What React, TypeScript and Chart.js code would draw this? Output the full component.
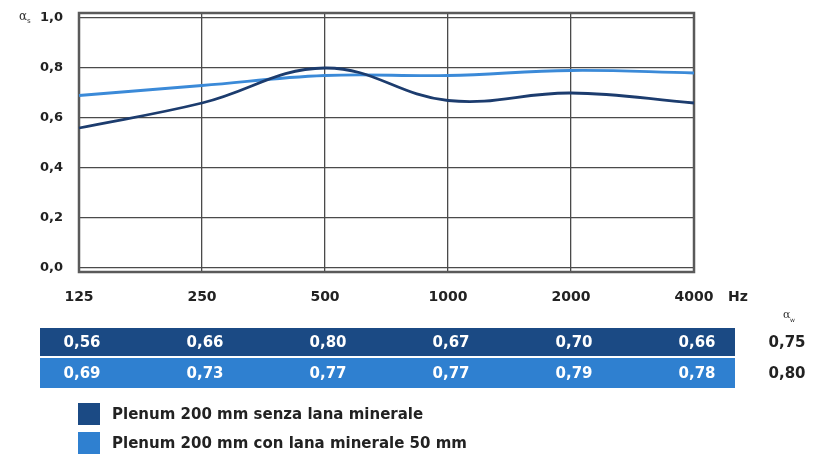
import React, { useEffect, useRef } from "react";
import { Chart, registerables } from "chart.js";

Chart.register(...registerables);

const categories = ["125", "250", "500", "1000", "2000", "4000"];
const seriesSenza = [0.56, 0.66, 0.8, 0.67, 0.7, 0.66];
const seriesCon = [0.69, 0.73, 0.77, 0.77, 0.79, 0.78];
const alphaW = ["0,75", "0,80"];
const yTicks = [0, 0.2, 0.4, 0.6, 0.8, 1.0];
const legendLabels = [
  "Plenum 200 mm senza lana minerale",
  "Plenum 200 mm con lana minerale 50 mm",
];

const DARK_ROW = "#1b4a84";
const LIGHT_ROW = "#2f80d0";
const DARK_LINE = "#1c3c6e";
const LIGHT_LINE = "#3b8ad8";
const FONT = '"DejaVu Sans", sans-serif';

const fmt = (v: number, d: number) => v.toFixed(d).replace(".", ",");

const extrasPlugin = {
  id: "extras",
  beforeDatasetsDraw(chart: any) {
    const { ctx, chartArea } = chart;
    ctx.save();
    ctx.strokeStyle = "#5a5a5a";
    ctx.lineWidth = 2.5;
    ctx.strokeRect(chartArea.left, chartArea.top, chartArea.right - chartArea.left, chartArea.bottom - chartArea.top);
    ctx.restore();
  },
  afterDraw(chart: any) {
    const { ctx, chartArea } = chart;
    const xs = chart.scales.x;
    const ys = chart.scales.y;
    ctx.save();
    // alpha_s label
    ctx.fillStyle = "#333";
    ctx.textBaseline = "middle";
    ctx.textAlign = "left";
    ctx.font = `12px "DejaVu Serif", serif`;
    ctx.fillText("α", 19, ys.getPixelForValue(1.0) - 1);
    ctx.font = `7px ${FONT}`;
    ctx.fillText("s", 27, ys.getPixelForValue(1.0) + 3);

    // Hz label
    ctx.font = `bold 14px ${FONT}`;
    ctx.fillStyle = "#222";
    ctx.textAlign = "left";
    ctx.fillText("Hz", chartArea.right + 34, 297);

    // table rows
    const rows = [
      { vals: seriesSenza, color: DARK_ROW, top: 328, h: 28, w: alphaW[0] },
      { vals: seriesCon, color: LIGHT_ROW, top: 358, h: 30, w: alphaW[1] },
    ];
    const tableLeft = 40;
    const tableRight = 735;
    rows.forEach((r) => {
      ctx.fillStyle = r.color;
      ctx.fillRect(tableLeft, r.top, tableRight - tableLeft, r.h);
      ctx.fillStyle = "#ffffff";
      ctx.textAlign = "center";
      ctx.font = `bold 15px ${FONT}`;
      r.vals.forEach((v, i) => {
        ctx.fillText(fmt(v, 2), xs.getPixelForValue(i) + 3, r.top + r.h / 2 + 1);
      });
      ctx.fillStyle = "#222";
      ctx.fillText(r.w, 787, r.top + r.h / 2 + 1);
    });

    // alpha_w label
    ctx.fillStyle = "#333";
    ctx.textAlign = "left";
    ctx.font = `11px "DejaVu Serif", serif`;
    ctx.fillText("α", 783, 315);
    ctx.font = `6px ${FONT}`;
    ctx.fillText("w", 790, 320);

    // legend
    const legendColors = [DARK_ROW, LIGHT_ROW];
    const legendY = [414, 443];
    legendLabels.forEach((lab, i) => {
      ctx.fillStyle = legendColors[i];
      ctx.fillRect(78, legendY[i] - 11, 22, 22);
      ctx.fillStyle = "#222";
      ctx.font = `bold 15px ${FONT}`;
      ctx.textAlign = "left";
      ctx.fillText(lab, 112, legendY[i] + 1);
    });
    ctx.restore();
  },
};

export default function App() {
  const ref = useRef<HTMLCanvasElement | null>(null);
  useEffect(() => {
    document.body.style.margin = "0";
    const canvas = ref.current;
    if (!canvas) return;
    const chart = new Chart(canvas, {
      type: "line",
      data: {
        labels: categories,
        datasets: [
          {
            label: legendLabels[0],
            data: seriesSenza,
            borderColor: DARK_LINE,
            borderWidth: 2.8,
            pointRadius: 0,
            tension: 0.4,
            fill: false,
          },
          {
            label: legendLabels[1],
            data: seriesCon,
            borderColor: LIGHT_LINE,
            borderWidth: 2.8,
            pointRadius: 0,
            tension: 0.4,
            fill: false,
          },
        ],
      },
      options: {
        animation: false,
        responsive: false,
        devicePixelRatio: 1,
        layout: { padding: { top: 13, right: 131, left: 0, bottom: 0 } },
        plugins: {
          legend: { display: false },
          tooltip: { enabled: false },
        },
        scales: {
          x: {
            type: "category",
            offset: false,
            grid: { color: "#4a4a4a", lineWidth: 1.3, drawTicks: false },
            border: { display: false },
            ticks: {
              padding: 17,
              color: "#222",
              font: { family: FONT, size: 14, weight: "bold" },
              maxRotation: 0,
              autoSkip: false,
            },
            afterFit: (s: any) => {
              s.height = 183;
              s.paddingLeft = 0;
              s.paddingRight = 0;
            },
          },
          y: {
            min: -0.016,
            max: 1.02,
            grid: { color: "#4a4a4a", lineWidth: 1.3, drawTicks: false },
            border: { display: false },
            afterBuildTicks: (axis: any) => {
              axis.ticks = yTicks.map((v) => ({ value: v }));
            },
            ticks: {
              padding: 16,
              color: "#222",
              font: { family: FONT, size: 13, weight: "bold" },
              callback: (v: any) => fmt(Number(v), 1),
            },
            afterFit: (s: any) => {
              s.width = 79;
              s.paddingTop = 0;
              s.paddingBottom = 0;
            },
          },
        },
      },
      plugins: [extrasPlugin],
    });
    return () => chart.destroy();
  }, []);
  return (
    <div style={{ width: 825, height: 455, background: "#fff" }}>
      <canvas ref={ref} width={825} height={455} style={{ display: "block" }} />
    </div>
  );
}
